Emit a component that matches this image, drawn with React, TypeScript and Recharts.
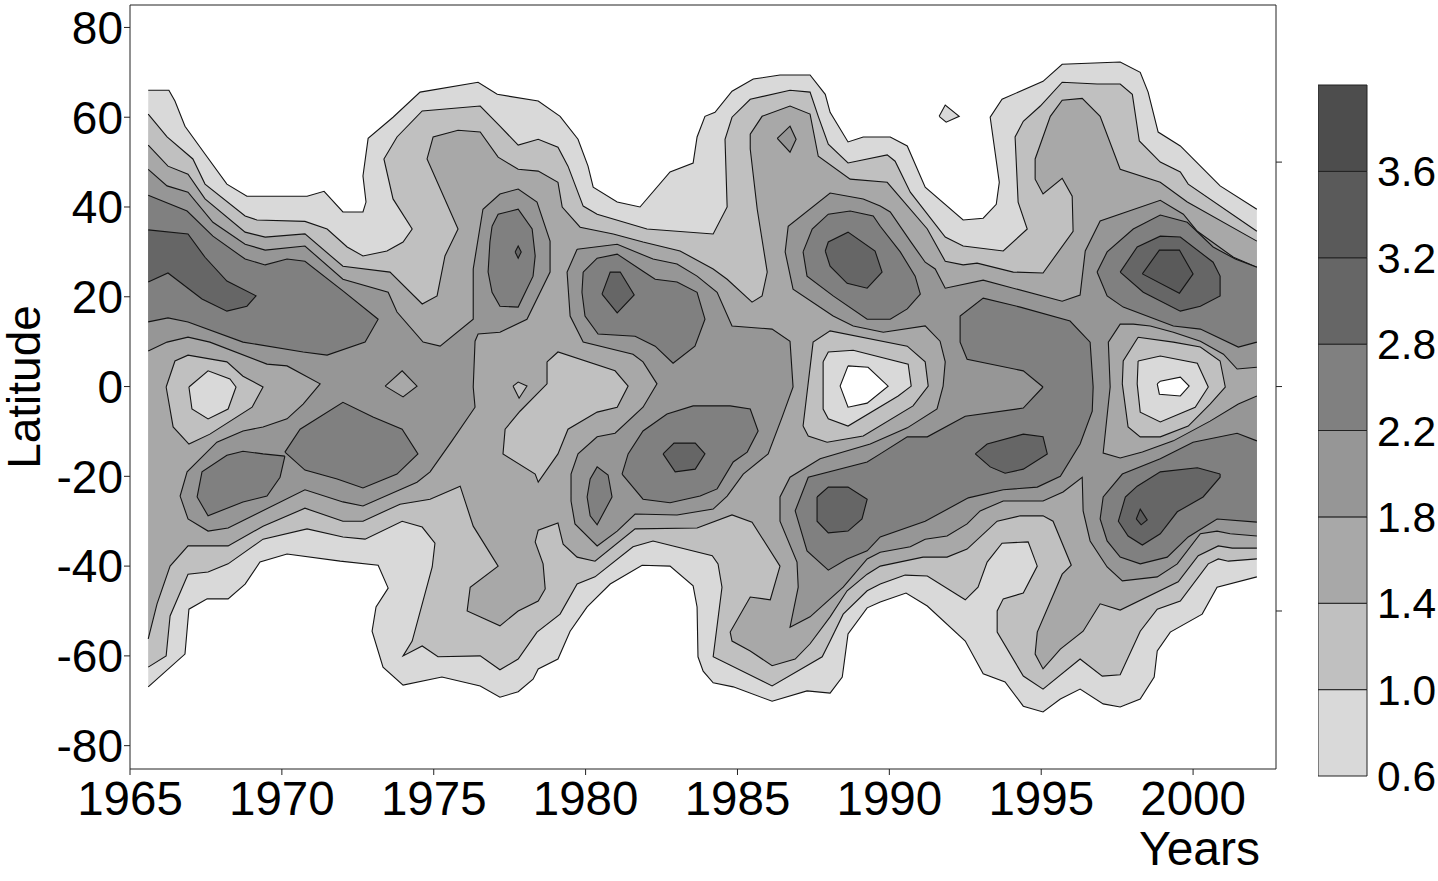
import { Bar, BarChart, Label, Scatter, ScatterChart, XAxis, YAxis } from 'recharts'

type Point = [number, number]

const FONT = '"Liberation Sans", Arial, sans-serif'
const FIRST_YEAR = 1965.6
const LAST_YEAR = 2002.1

const YEAR_TICKS = [1965, 1970, 1975, 1980, 1985, 1990, 1995, 2000]
const LATITUDE_TICKS = [-80, -60, -40, -20, 0, 20, 40, 60, 80]
const RIGHT_TICKS = [-50, 0, 50]

const LEVEL_LABELS = ['0.6', '1.0', '1.4', '1.8', '2.2', '2.8', '3.2', '3.6']
const BAND_FILLS = ['#d9d9d9', '#c0c0c0', '#a8a8a8', '#969696', '#808080', '#666666', '#5a5a5a', '#4d4d4d']

const envelope06: Point[] = [
  [FIRST_YEAR, 66], [1966.28, 66], [1966.48, 63.6], [1966.81, 58], [1967.47, 51.8], [1968.19, 45.1], [1968.85, 42.4], [1970.83, 42.4],
  [1971.39, 43.5], [1972.01, 38.9], [1972.67, 38.9], [1972.77, 41.1], [1972.67, 46.9], [1972.84, 55.3], [1973.66, 60], [1974.55, 65.6],
  [1976.46, 67.8], [1977.09, 65.1], [1978.44, 63.6], [1979.16, 60.2], [1979.75, 55.1], [1980.08, 49.1], [1980.25, 44.4], [1981.04, 41.1],
  [1981.79, 40], [1982.78, 47.8], [1983.54, 49.8], [1983.67, 55.6], [1983.93, 60.2], [1984.26, 61.1], [1984.82, 65.8], [1985.52, 68.5],
  [1986.4, 69.4], [1987.39, 69.4], [1987.89, 65.1], [1988.05, 61.1], [1988.64, 54.5], [1989.14, 55.6], [1990.03, 55.6], [1990.59, 53.6],
  [1991.18, 44.4], [1992.43, 37.1], [1993.09, 37.5], [1993.52, 40.6], [1993.62, 45.5], [1993.32, 60], [1993.71, 64], [1995.06, 68],
  [1995.69, 71.8], [1997.6, 72.3], [1998.26, 70], [1998.52, 65.6], [1998.85, 56.7], [1999.58, 53.6], [2000.89, 44.7], [LAST_YEAR, 39.5],
  [LAST_YEAR, -42.4], [2000.79, -44.7], [2000.3, -50.7], [1999.25, -54.7], [1998.82, -58.9], [1998.72, -64.7], [1998.26, -69.6],
  [1997.6, -71.4], [1997.04, -70.7], [1996.28, -67.4], [1995.63, -69.6], [1995.06, -72.5], [1994.41, -71.2], [1993.81, -65.8],
  [1993.09, -64], [1992.5, -56.7], [1991.25, -48.9], [1990.55, -46], [1989.7, -48], [1989.27, -49.3], [1988.64, -55.1], [1988.45, -64.7],
  [1988.05, -68.3], [1987.29, -67.8], [1986.14, -70.1], [1984.86, -66.9], [1984.2, -66], [1983.87, -63.4], [1983.7, -60.2], [1983.67, -49.1],
  [1983.54, -44.4], [1982.78, -40], [1981.86, -39.8], [1980.81, -44], [1980.05, -49.1], [1979.49, -54.5], [1979.09, -60.7], [1978.44, -62.9],
  [1978.27, -65.2], [1977.78, -68], [1977.18, -69.2], [1976.53, -66.7], [1975.27, -64.7], [1973.99, -66.5], [1973.33, -62.5], [1972.97, -54.5],
  [1973.1, -49.1], [1973.5, -44.9], [1973.17, -39.8], [1971.92, -38.9], [1970.17, -37.3], [1969.28, -39.1], [1968.79, -44], [1968.23, -47.3],
  [1967.54, -47.3], [1966.94, -49.6], [1966.81, -59.6], [FIRST_YEAR, -66.9],
]

const envelope10: Point[] = [
  [FIRST_YEAR, 60.7], [1966.22, 55.6], [1967.07, 50.7], [1967.47, 45.1], [1968.79, 38], [1969.18, 37.1], [1970.76, 36.8], [1971.49, 35.1],
  [1972.15, 31.1], [1972.67, 29.1], [1973.46, 30.2], [1973.99, 32.2], [1974.29, 35.1], [1973.66, 41.8], [1973.36, 50.7], [1973.79, 55.6],
  [1974.62, 61.4], [1976.53, 62.5], [1977.18, 58], [1977.78, 53.8], [1978.44, 55.1], [1979.09, 53.3], [1979.42, 49.1], [1979.92, 40.2],
  [1980.38, 38.4], [1982.02, 35.1], [1984.2, 34], [1984.66, 40], [1984.59, 55.1], [1984.82, 60], [1985.42, 64], [1986.73, 66], [1987.39, 65.6],
  [1987.66, 60.2], [1987.99, 54], [1988.64, 49.8], [1989.93, 51.6], [1990.19, 50.2], [1990.69, 43.3], [1991.84, 33.3], [1992.43, 31.3],
  [1993.75, 30.2], [1994.54, 35.1], [1994.24, 41.1], [1994.14, 55.6], [1994.41, 59.1], [1994.97, 62.5], [1995.69, 67.8], [1996.84, 67.4],
  [1997.6, 67.4], [1998, 65.1], [1998.23, 54.7], [1998.92, 50], [1999.58, 47.8], [1999.84, 45.1], [LAST_YEAR, 34.6],
  [LAST_YEAR, -38.4], [2001.16, -38.9], [2000.83, -38.4], [2000.5, -39.5], [1999.58, -47.8], [1998.82, -49.6], [1998.26, -54.5], [1997.6, -64.2],
  [1997.01, -64.5], [1996.28, -60.7], [1995.06, -67.4], [1994.41, -64.5], [1993.55, -54.7], [1993.55, -50], [1993.75, -47.3], [1994.41, -46],
  [1994.87, -40], [1994.57, -34.6], [1993.71, -34.9], [1993.22, -39.1], [1992.92, -44.7], [1992.5, -47.5], [1991.25, -42.2], [1990.52, -42],
  [1989.7, -44], [1989.27, -45.5], [1988.48, -50.7], [1988.05, -56.7], [1987.79, -60.2], [1986.14, -66.7], [1984.2, -60.2], [1984.49, -44.7],
  [1984.36, -39.5], [1984.17, -37.7], [1982.22, -34.4], [1981.56, -35.7], [1980.31, -42.4], [1979.72, -44], [1979.16, -50.7], [1978.4, -54.7],
  [1977.78, -60.7], [1977.18, -63.1], [1976.53, -60], [1975.14, -60.2], [1974.62, -57.8], [1973.99, -60], [1974.29, -56.7], [1974.95, -40.2],
  [1975.04, -34.9], [1974.62, -31.3], [1973.96, -30], [1972.74, -34], [1972.01, -33.5], [1970.83, -31.7], [1969.38, -34], [1968.23, -39.5],
  [1967.57, -41.3], [1966.91, -41.8], [1966.32, -51.1], [1966.19, -60], [FIRST_YEAR, -62.5],
]

const envelope14: Point[] = [
  [FIRST_YEAR, 53.8], [1966.25, 49.1], [1966.91, 47.3], [1967.47, 41.8], [1968.79, 34.4], [1969.45, 33.3], [1970.76, 34], [1972.01, 26.8],
  [1973.56, 25.5], [1974.62, 18.4], [1975.11, 20.2], [1975.37, 29.1], [1975.8, 35.1], [1974.78, 50.7], [1974.98, 55.6], [1975.8, 57.1],
  [1976.53, 56.7], [1977.12, 51.1], [1977.78, 48.4], [1978.44, 48], [1979.09, 45.5], [1979.23, 40], [1979.82, 35.5], [1980.91, 34],
  [1981.89, 32.2], [1983.11, 30.2], [1984.2, 26.2], [1984.66, 23.9], [1985.48, 18.8], [1985.81, 20.2], [1985.98, 25.5], [1985.65, 39.5],
  [1985.42, 52.9], [1985.42, 56.2], [1985.81, 60.2], [1986.73, 62.5], [1987.39, 60.7], [1987.66, 51.3], [1988.71, 46.2], [1989.93, 45.5],
  [1991.25, 35.1], [1991.84, 27.9], [1992.43, 27.1], [1992.89, 27.5], [1994.08, 25.5], [1995.06, 25.3], [1996.05, 34.6], [1996.02, 42.4],
  [1995.69, 46.4], [1995.06, 42.9], [1994.8, 46.2], [1994.8, 50.7], [1995.3, 60.2], [1995.69, 63.8], [1996.35, 64.2], [1996.94, 60.2],
  [1997.6, 48.4], [1998.92, 45.5], [1999.81, 41.1], [LAST_YEAR, 32.4],
  [LAST_YEAR, -36], [2001.29, -36], [2000.83, -35.5], [2000.17, -37.7], [1999.51, -43.5], [1997.6, -49.8], [1996.94, -48.4], [1996.38, -54.5],
  [1995.63, -58.5], [1995.06, -62.9], [1994.8, -59.6], [1994.87, -54.7], [1995.69, -41.8], [1995.99, -39.8], [1995.39, -30], [1995.06, -28.8],
  [1994.31, -28.8], [1993.55, -30], [1992.56, -36.2], [1991.9, -38], [1991.11, -38], [1989.7, -40], [1989.27, -41.8], [1988.61, -45.5],
  [1988.05, -51.3], [1987.39, -57.3], [1986.9, -60.7], [1986.14, -62.2], [1985.42, -58.9], [1984.82, -56.7], [1984.76, -54.7], [1985.42, -46.9],
  [1986.08, -47.5], [1986.4, -40], [1985.48, -30.2], [1984.82, -28.6], [1983.67, -31.5], [1981.63, -31.7], [1980.31, -38.9], [1979.72, -38],
  [1979.26, -35.1], [1979.09, -30.4], [1978.44, -32], [1978.34, -34.6], [1978.6, -39.5], [1978.67, -45.1], [1978.44, -47.8], [1977.78, -50],
  [1977.18, -53.3], [1976.1, -50], [1976.2, -44.7], [1977.12, -40], [1976.3, -31.1], [1975.87, -22.2], [1974.88, -25.1], [1973.89, -26.2],
  [1972.67, -30], [1972.01, -30], [1970.76, -27.1], [1969.38, -31.1], [1968.23, -35.5], [1966.91, -35.5], [1966.32, -40], [1965.89, -48.4],
  [FIRST_YEAR, -56.2],
]

const west18: Point[] = [
  [FIRST_YEAR, 48.4], [1966.22, 44.7], [1966.91, 43.3], [1967.73, 36.6], [1968.79, 31.7], [1969.45, 30.4], [1970.76, 31.3], [1972.01, 23.9],
  [1973.5, 21], [1973.79, 16.6], [1974.65, 9.9], [1975.21, 9], [1976.3, 15], [1976.3, 26.2], [1976.62, 39.5], [1977.18, 42.9], [1977.78, 44],
  [1978.4, 41.1], [1978.83, 32.4], [1978.83, 25.5], [1978.07, 15], [1977.18, 12.1], [1976.46, 11.7], [1976.36, 10.1], [1976.3, -0.1],
  [1976.36, -4.6], [1975.6, -12.1], [1974.88, -19], [1974.45, -21.3], [1972.67, -26.6], [1972.01, -25.7], [1970.76, -23], [1968.23, -31.5],
  [1967.57, -32.2], [1966.91, -29.5], [1966.65, -24.4], [1966.88, -19], [1967.86, -12.4], [1968.72, -9.9], [1969.38, -9], [1970.17, -7.2],
  [1970.7, -3.9], [1971.26, 0.6], [1970.17, 4.6], [1969.51, 5], [1967.63, 9.9], [1966.91, 11], [1966.22, 9.9], [FIRST_YEAR, 7.9],
]

const middle18: Point[] = [
  [1979.72, 30.6], [1981.04, 31.7], [1982.22, 28.4], [1983.01, 27.3], [1983.67, 24.6], [1984.33, 21], [1984.82, 13.5], [1986.14, 12.8],
  [1986.73, 10.1], [1986.83, -0.1], [1986.47, -6.8], [1986.01, -15], [1985.19, -19.5], [1984.66, -24.4], [1984.2, -27.3], [1983.01, -28.6],
  [1981.63, -28.4], [1981.04, -32.2], [1980.38, -35.5], [1979.65, -30.6], [1979.52, -25.5], [1979.52, -19.5], [1979.75, -15], [1980.38, -11.2],
  [1980.97, -10.4], [1981.89, -4.6], [1982.35, 0.6], [1981.89, 5.5], [1981.56, 7.2], [1979.92, 9.9], [1979.49, 15.7], [1979.39, 25.5],
]

const east18: Point[] = [
  [LAST_YEAR, 26.6], [2001.33, 28.8], [2000.14, 34.6], [1999.68, 38.4], [1998.92, 41.5], [1996.94, 36.9], [1996.45, 30.2], [1996.28, 20.4],
  [1995.69, 19], [1993.09, 23.7], [1991.84, 21.9], [1991.51, 26.2], [1991.18, 27.7], [1990.69, 32.4], [1990.03, 38.9], [1989.7, 40.2],
  [1989.14, 41.8], [1988.05, 43.1], [1986.67, 35.7], [1986.57, 30], [1986.83, 21.7], [1988.15, 15.7], [1988.81, 13.5], [1989.8, 12.1],
  [1991.18, 13.5], [1991.67, 10.1], [1991.84, 5.5], [1991.77, 0.1], [1991.57, -5], [1990.59, -9.2], [1989.37, -12.8], [1987.72, -16.1],
  [1986.73, -20.2], [1986.4, -24.6], [1986.4, -30], [1986.96, -39.1], [1987, -44.7], [1986.73, -53.6], [1987.39, -51.3], [1988.48, -44.7],
  [1989.27, -38.4], [1989.7, -36.9], [1990.69, -35.7], [1991.18, -34], [1991.9, -33.3], [1992.56, -30.6], [1992.99, -27.7], [1993.75, -25.5],
  [1995.06, -25.5], [1995.72, -23.5], [1996.35, -20.2], [1996.38, -27.7], [1996.61, -34.4], [1997.17, -40.2], [1997.67, -43.3], [1998.82, -42.4],
  [1999.48, -39.5], [2000.24, -32.8], [2000.79, -32.2], [2001.22, -32.8], [LAST_YEAR, -33.3],
]

const dipEast14: Point[] = [
  [LAST_YEAR, 4.3], [2001.45, 3.9], [2001, 7.2], [2000.24, 10.1], [1999.35, 12.1], [1998.59, 13.5], [1998.03, 13.9], [1997.6, 13.9],
  [1997.21, 9.9], [1997.27, -0.1], [1997.04, -14.8], [1997.6, -15.9], [1998.33, -14.6], [1999.35, -12.1], [2000.56, -7.7], [2001.49, -3.9],
  [LAST_YEAR, -2.1],
]
const dipEast10: Point[] = [
  [1998.19, 11], [1999.35, 9.9], [2000.24, 8.8], [2000.89, 5.7], [2001.06, -0.1], [2000.56, -3.9], [1999.84, -8.8], [1998.92, -11.2],
  [1998.26, -11.2], [1997.86, -9], [1997.67, 0.6], [1997.7, 5.7],
]
const dipEast06: Point[] = [
  [1998.19, 5.7], [1998.92, 6.8], [2000.14, 5.2], [2000.5, -0.1], [2000.07, -4.6], [1998.92, -7.9], [1998.26, -5.7], [1998.16, 0.6],
]
const dipEastEmpty: Point[] = [[1998.82, 0.6], [1998.92, 1.2], [1999.58, 2.1], [1999.87, 0.1], [1999.58, -2.1], [1998.89, -1.7]]

const dipMiddle10: Point[] = [
  [1987.16, -8.8], [1987.33, -11], [1987.95, -12.4], [1989.14, -11], [1990.78, -4.3], [1991.28, 0.1], [1991.18, 5.5], [1990.59, 9],
  [1988.05, 12.4], [1987.49, 9.9],
]
const dipMiddle06: Point[] = [
  [1987.82, 5.5], [1987.99, 7.7], [1988.81, 8.1], [1990.62, 5], [1990.72, 0.1], [1990.29, -2.1], [1988.64, -8.8], [1987.99, -7.2], [1987.82, -5],
]
const dipMiddleEmpty: Point[] = [[1988.64, 4.6], [1989.3, 4.3], [1989.96, 0.1], [1989.27, -3.7], [1988.64, -4.6], [1988.38, 0.1]]

const dipWest10: Point[] = [
  [1966.19, -0.1], [1966.48, 5.7], [1966.91, 7], [1968.19, 5.5], [1968.72, 2.3], [1969.38, -0.1], [1969.02, -4.6], [1967.63, -10.6],
  [1966.94, -12.8], [1966.42, -9],
]
const dipWest06: Point[] = [[1966.94, -0.1], [1967.57, 3.5], [1968.29, 1.7], [1968.49, -0.1], [1968.23, -5], [1967.57, -7.2], [1967.04, -5]]

const island10: Point[] = [
  [1978.73, 5.5], [1979.09, 7.7], [1980.97, 3.5], [1981.4, 0.1], [1981.04, -4.6], [1980.38, -5.7], [1979.42, -9.5], [1979.09, -15],
  [1978.44, -21.3], [1978.34, -19.5], [1977.28, -15], [1977.35, -9.5], [1977.84, -5.5], [1978.73, 0.6],
]
const speck1978: Point[] = [[1977.61, 0.1], [1977.78, 1], [1978.07, 0.1], [1977.81, -2.6]]
const speck1974: Point[] = [[1973.4, 0.1], [1973.96, 3.5], [1974.45, 0.1], [1973.99, -2.3]]
const speck1987: Point[] = [[1986.31, 55.3], [1986.73, 58], [1986.93, 55.1], [1986.73, 52.2]]
const speck1992: Point[] = [[1991.64, 60.2], [1991.84, 62.7], [1992.3, 60.2], [1991.87, 58.9]]

const north22West: Point[] = [
  [FIRST_YEAR, 42.6], [1966.88, 39.1], [1967.73, 33.5], [1968.79, 28.4], [1969.45, 27.1], [1970.17, 28.4], [1970.76, 27.9], [1972.01, 21.3],
  [1973.17, 15], [1972.74, 9.9], [1971.49, 7], [1970.7, 7.7], [1968.72, 9.9], [1966.91, 14.4], [1966.25, 15.3], [FIRST_YEAR, 14.4],
]
const south22West: Point[] = [
  [1970.1, -15.5], [1969.94, -20.2], [1969.51, -24.4], [1968.72, -25.7], [1967.57, -28.8], [1967.21, -24.6], [1967.37, -19], [1968.19, -15.3],
  [1968.72, -14.4], [1969.38, -15],
]
const south22Centre: Point[] = [
  [1970.1, -14.6], [1970.6, -9.5], [1972.01, -3.5], [1973, -6.8], [1973.96, -9.5], [1974.48, -15], [1973.79, -19.5], [1972.67, -22.6],
  [1971.82, -20.6], [1970.76, -18.6],
]
const oval22_1978: Point[] = [
  [1976.92, 35.7], [1977.12, 38.4], [1977.78, 39.5], [1978.24, 35.1], [1978.34, 29.1], [1978.27, 24.6], [1977.78, 17.7], [1977.18, 17.9],
  [1976.92, 21], [1976.79, 25.5], [1976.85, 32.2],
]
const oval22_1982: Point[] = [
  [1979.92, 25.5], [1980.38, 28.6], [1981.04, 29.5], [1981.89, 25.7], [1982.29, 23.9], [1983.01, 23.3], [1983.67, 21], [1983.93, 15],
  [1983.6, 9], [1982.88, 5.2], [1982.29, 9], [1981.63, 11.2], [1980.41, 11.7], [1979.98, 15.7], [1979.88, 21],
]
const oval22_1983: Point[] = [
  [1981.2, -19.5], [1981.4, -15], [1981.89, -9.9], [1982.68, -6.1], [1983.54, -4.3], [1984.76, -4.3], [1985.42, -5], [1985.68, -9.9],
  [1985.32, -14.6], [1984.86, -16.8], [1984.33, -22.8], [1983.77, -24.4], [1982.78, -25.9], [1981.89, -25.1],
]
const oval22_1980: Point[] = [
  [1980.05, -24.6], [1980.15, -20.6], [1980.38, -17.9], [1980.74, -19.7], [1980.87, -24.6], [1980.38, -30.8], [1980.15, -28.8],
]
const oval22_1989: Point[] = [
  [1987.16, 30], [1987.46, 35.1], [1987.99, 38.4], [1988.71, 39.1], [1989.47, 38], [1989.7, 35.7], [1990.36, 30], [1990.85, 24.6],
  [1991.02, 20.6], [1990.59, 17.3], [1990.03, 15], [1989.27, 15], [1988.15, 20.2], [1987.29, 24.6],
]
const band22: Point[] = [
  [1995.06, -0.1], [1994.41, 3.5], [1992.56, 6.1], [1992.33, 9.9], [1992.33, 15.7], [1993.09, 19.7], [1994.31, 17.7], [1995.95, 14.6],
  [1996.61, 9.9], [1996.71, -0.1], [1996.68, -5.5], [1996.28, -12.8], [1995.63, -20], [1994.87, -22.4], [1993.75, -23], [1992.6, -24.8],
  [1991.18, -30], [1989.7, -33.5], [1989.27, -36.6], [1988.61, -38.4], [1987.99, -40.9], [1987.29, -36.6], [1986.9, -27.7], [1987.33, -20.2],
  [1989.27, -16.8], [1989.7, -15], [1990.59, -11.2], [1991.25, -11.2], [1992.5, -6.6], [1994.41, -4.8],
]
const north22East: Point[] = [
  [1996.84, 25.5], [1997.17, 30], [1998.03, 35.1], [1998.92, 38.2], [1999.81, 36.6], [2000.66, 31.1], [2001.39, 28.4], [LAST_YEAR, 26.6],
  [LAST_YEAR, 9.9], [2001.49, 8.8], [2000.24, 12.8], [1999.35, 13.5], [1997.7, 17.7], [1997.17, 20.2],
]
const south22East: Point[] = [
  [LAST_YEAR, -12.1], [2001.45, -10.4], [2000, -12.4], [1998.92, -16.1], [1997.67, -19.5], [1997.04, -24.6], [1996.94, -29.5], [1997.17, -34.4],
  [1997.6, -38], [1998.26, -39.5], [1999.15, -38], [1999.84, -33.5], [2000.79, -29.5], [LAST_YEAR, -30.2],
]

const core28West: Point[] = [
  [FIRST_YEAR, 34.9], [1966.91, 34], [1967.47, 28.8], [1968.19, 23.5], [1969.15, 20.2], [1968.85, 17.9], [1968.19, 16.8], [1967.37, 19.5],
  [1966.25, 25.3], [FIRST_YEAR, 23.3],
]
const core28_1978: Point[] = [[1977.68, 30], [1977.78, 31.3], [1977.88, 30], [1977.78, 28.6]]
const core28_1981: Point[] = [[1980.54, 20.6], [1980.81, 25.5], [1981.14, 25.5], [1981.6, 20.4], [1981.04, 16.4]]
const core28_1983: Point[] = [[1982.55, -15], [1982.91, -12.6], [1983.61, -12.6], [1983.93, -15], [1983.61, -18.4], [1982.95, -19]]
const core28_1989N: Point[] = [
  [1987.89, 30.2], [1987.99, 32.2], [1988.64, 34.4], [1989.53, 30.2], [1989.76, 25.5], [1989.27, 21.9], [1988.61, 23], [1988.05, 26.8],
]
const core28_1988S: Point[] = [
  [1987.62, -24.6], [1987.99, -22.4], [1988.64, -22.4], [1989.27, -25.1], [1989.1, -29.5], [1988.64, -32.2], [1987.99, -32.6], [1987.62, -30],
]
const core28_1994: Point[] = [
  [1992.83, -15], [1993.22, -12.8], [1994.41, -10.6], [1995.06, -11.2], [1995.2, -15], [1994.41, -18.4], [1993.81, -19.3], [1993.32, -17.9],
]
const core28EastN: Point[] = [
  [1997.6, 25.5], [1998.16, 31.1], [1998.92, 33.5], [1999.58, 33.3], [2000.66, 27.7], [2000.89, 24.6], [2000.89, 20.2], [2000.24, 17.9],
  [1999.58, 16.8], [1998.36, 21],
]
const core28EastS: Point[] = [
  [2000.89, -19.5], [2000.14, -18.1], [1998.92, -19], [1998.16, -22.2], [1997.77, -24.6], [1997.54, -30], [1997.86, -33.3], [1998.33, -35.3],
  [1998.92, -32.8], [1999.48, -27.9], [2000.33, -24.6], [2000.89, -20.2],
]
const core32EastN: Point[] = [[1998.33, 25.1], [1998.89, 30.4], [1999.55, 30.4], [2000, 25.1], [1999.55, 20.8]]
const core32EastS: Point[] = [[1998.13, -29.5], [1998.26, -27.3], [1998.49, -29.7], [1998.29, -30.8]]

// painted back to front, each band over the one below it
const LAYERS: [Point[], string][] = [
  [envelope06, BAND_FILLS[0]],
  [speck1992, BAND_FILLS[0]],
  [envelope10, BAND_FILLS[1]],
  [envelope14, BAND_FILLS[2]],
  [island10, BAND_FILLS[1]],
  [speck1978, BAND_FILLS[1]],
  [speck1987, BAND_FILLS[3]],
  [west18, BAND_FILLS[3]],
  [speck1974, BAND_FILLS[2]],
  [dipWest10, BAND_FILLS[1]],
  [dipWest06, BAND_FILLS[0]],
  [middle18, BAND_FILLS[3]],
  [east18, BAND_FILLS[3]],
  [dipEast14, BAND_FILLS[2]],
  [dipEast10, BAND_FILLS[1]],
  [dipEast06, BAND_FILLS[0]],
  [dipEastEmpty, '#ffffff'],
  [dipMiddle10, BAND_FILLS[1]],
  [dipMiddle06, BAND_FILLS[0]],
  [dipMiddleEmpty, '#ffffff'],
  [north22West, BAND_FILLS[4]],
  [south22West, BAND_FILLS[4]],
  [south22Centre, BAND_FILLS[4]],
  [oval22_1978, BAND_FILLS[4]],
  [oval22_1982, BAND_FILLS[4]],
  [oval22_1983, BAND_FILLS[4]],
  [oval22_1980, BAND_FILLS[4]],
  [oval22_1989, BAND_FILLS[4]],
  [band22, BAND_FILLS[4]],
  [north22East, BAND_FILLS[4]],
  [south22East, BAND_FILLS[4]],
  [core28West, BAND_FILLS[5]],
  [core28_1978, BAND_FILLS[5]],
  [core28_1981, BAND_FILLS[5]],
  [core28_1983, BAND_FILLS[5]],
  [core28_1989N, BAND_FILLS[5]],
  [core28_1988S, BAND_FILLS[5]],
  [core28_1994, BAND_FILLS[5]],
  [core28EastN, BAND_FILLS[5]],
  [core28EastS, BAND_FILLS[5]],
  [core32EastN, BAND_FILLS[6]],
  [core32EastS, BAND_FILLS[6]],
]

const toRows = (points: Point[]) => points.map(([year, lat]) => ({ year, lat }))

const onEdge = (a: Point, b: Point) =>
  (a[0] === FIRST_YEAR && b[0] === FIRST_YEAR) || (a[0] === LAST_YEAR && b[0] === LAST_YEAR)

// the contour lines stop at the data edge, so the outline skips segments running along it
function outlineRuns(points: Point[]) {
  const closed = [...points, points[0]]
  const runs: Point[][] = [[closed[0]]]
  for (let i = 1; i < closed.length; i++) {
    if (onEdge(closed[i - 1], closed[i])) runs.push([closed[i]])
    else runs[runs.length - 1].push(closed[i])
  }
  return runs.filter(run => run.length > 1)
}

const noDot = () => <g />

const yearTickStyle = { fontSize: 47.5, fill: '#000', fontFamily: FONT }
const latitudeTickStyle = { fontSize: 46, fill: '#000', fontFamily: FONT }

function ColorBar() {
  const row = [Object.fromEntries(BAND_FILLS.map((_, i) => [`band${i}`, 1]))]
  return (
    <div style={{ position: 'absolute', left: 1318, top: 65 }}>
      <BarChart width={120} height={740} data={row} margin={{ top: 20, right: 0, bottom: 29, left: 0 }} barCategoryGap={0}>
        <XAxis hide type="category" />
        <YAxis
          orientation="right"
          type="number"
          width={71}
          domain={[0, 8]}
          ticks={[0, 1, 2, 3, 4, 5, 6, 7]}
          interval={0}
          tickFormatter={(v: number) => LEVEL_LABELS[v]}
          axisLine={false}
          tickLine={false}
          tickMargin={10}
          tick={{ fontSize: 42.5, fill: '#000', fontFamily: FONT, dx: -6 }}
        />
        {BAND_FILLS.map((fill, i) => (
          <Bar key={fill} dataKey={`band${i}`} stackId="levels" fill={fill} stroke="#222" strokeWidth={1} isAnimationActive={false} />
        ))}
      </BarChart>
    </div>
  )
}

export default function App() {
  return (
    <div style={{ position: 'absolute', left: 0, top: 0, width: 1438, height: 881, background: '#fff', overflow: 'hidden' }}>
      <ScatterChart width={1438} height={881} margin={{ top: 0, right: 0, bottom: 0, left: 0 }}>
        <XAxis
          dataKey="year"
          type="number"
          domain={[1965, 2002.73]}
          ticks={YEAR_TICKS}
          interval={0}
          height={112}
          stroke="#222"
          tickSize={6}
          tickMargin={6}
          tick={yearTickStyle}
        >
          <Label value="Years" position="insideBottomRight" offset={0} dx={-16} dy={-16} style={{ ...yearTickStyle, fontSize: 48 }} fill="#000" />
        </XAxis>
        <XAxis
          xAxisId="top"
          orientation="top"
          type="number"
          domain={[1965, 2002.73]}
          allowDataOverflow
          ticks={YEAR_TICKS}
          interval={0}
          height={5}
          stroke="#222"
          tickSize={5}
          tick={noDot}
        />
        <YAxis
          dataKey="lat"
          type="number"
          domain={[-85.2, 85]}
          ticks={LATITUDE_TICKS}
          interval={0}
          width={130}
          stroke="#222"
          tickSize={6}
          tickMargin={1}
          tick={latitudeTickStyle}
        >
          <Label value="Latitude" angle={-90} position="insideLeft" offset={0} dx={24} style={{ ...latitudeTickStyle, textAnchor: 'middle' }} fill="#000" />
        </YAxis>
        <YAxis
          yAxisId="right"
          orientation="right"
          type="number"
          domain={[-85.2, 85]}
          allowDataOverflow
          ticks={RIGHT_TICKS}
          interval={0}
          width={162}
          stroke="#222"
          tickSize={6}
          tick={noDot}
        />
        {LAYERS.flatMap(([points, fill], i) => [
          <Scatter
            key={`fill-${i}`}
            data={toRows(points)}
            shape={noDot}
            line={{ fill, stroke: 'none' }}
            isAnimationActive={false}
          />,
          ...outlineRuns(points).map((run, j) => (
            <Scatter
              key={`line-${i}-${j}`}
              data={toRows(run)}
              shape={noDot}
              line={{ fill: 'none', stroke: '#141414', strokeWidth: 1.1 }}
              isAnimationActive={false}
            />
          )),
        ])}
      </ScatterChart>
      <ColorBar />
    </div>
  )
}
